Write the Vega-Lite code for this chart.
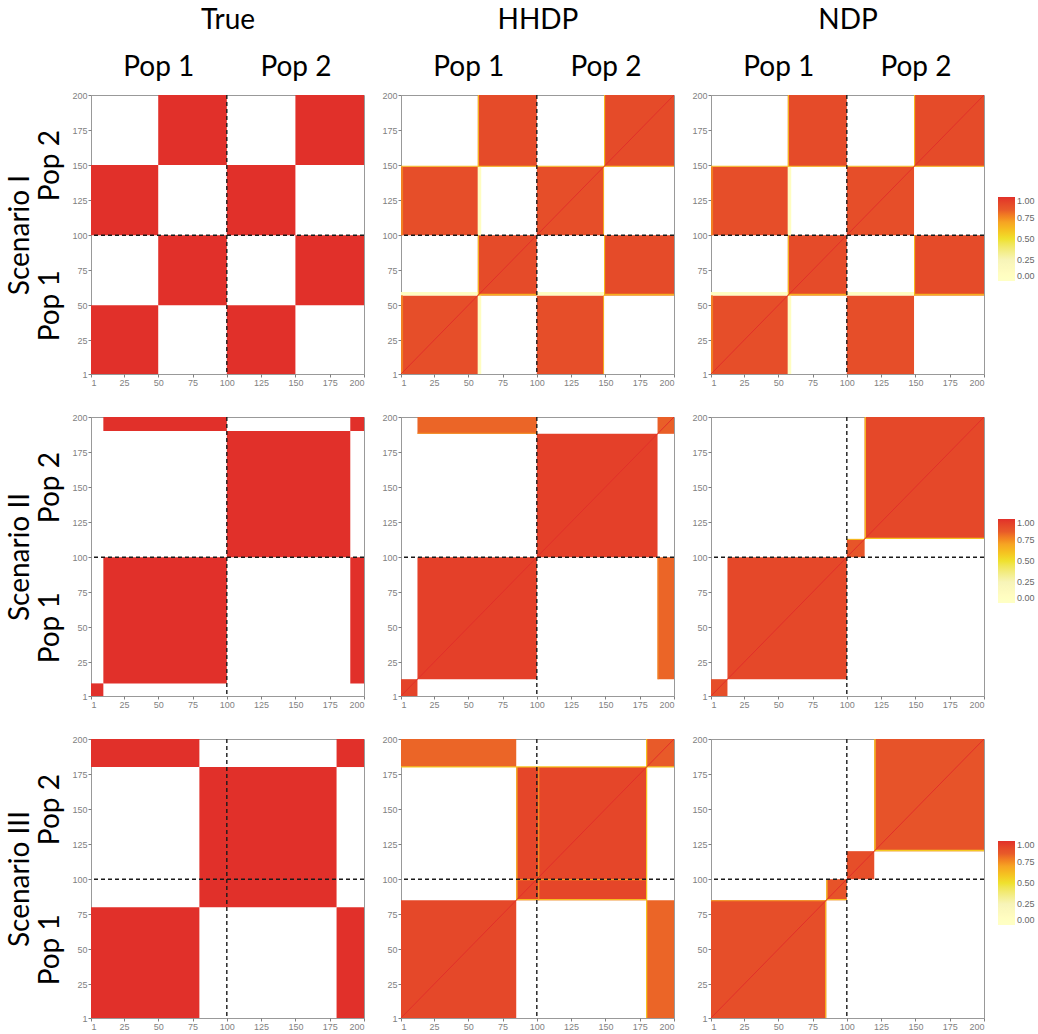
{
  "$schema": "https://vega.github.io/schema/vega-lite/v6.json",
  "background": "white",
  "padding": 5,
  "config": {
    "font": "Lato",
    "view": {"stroke": "#999999", "strokeWidth": 1},
    "axis": {"labelFont": "Liberation Sans", "labelFontSize": 9, "labelColor": "#7f7f7f", "tickColor": "#7f7f7f", "tickSize": 3, "domain": false, "grid": false, "labelPadding": 1},
    "legend": {"labelFont": "Liberation Sans", "labelFontSize": 9, "labelColor": "#666666", "gradientStrokeWidth": 0}
  },
  "datasets": {
    "diag": [{"x1": 1, "y1": 1, "x2": 200, "y2": 200}],
    "div": [{"p": 100}],
    "r1_true": [
      {"x1": 1, "x2": 50, "y1": 1, "y2": 50, "v": 1},
      {"x1": 1, "x2": 50, "y1": 100, "y2": 150, "v": 1},
      {"x1": 100, "x2": 150, "y1": 1, "y2": 50, "v": 1},
      {"x1": 100, "x2": 150, "y1": 100, "y2": 150, "v": 1},
      {"x1": 50, "x2": 100, "y1": 50, "y2": 100, "v": 1},
      {"x1": 50, "x2": 100, "y1": 150, "y2": 200, "v": 1},
      {"x1": 150, "x2": 200, "y1": 50, "y2": 100, "v": 1},
      {"x1": 150, "x2": 200, "y1": 150, "y2": 200, "v": 1}
    ],
    "r1_hhdp": [
      {"x1": 1, "x2": 57, "y1": 1, "y2": 57, "v": 0.9},
      {"x1": 1, "x2": 57, "y1": 100, "y2": 149, "v": 0.9},
      {"x1": 100, "x2": 149, "y1": 1, "y2": 57, "v": 0.9},
      {"x1": 100, "x2": 149, "y1": 100, "y2": 149, "v": 0.9},
      {"x1": 57, "x2": 100, "y1": 57, "y2": 100, "v": 0.91},
      {"x1": 57, "x2": 100, "y1": 149, "y2": 200, "v": 0.91},
      {"x1": 149, "x2": 200, "y1": 57, "y2": 100, "v": 0.91},
      {"x1": 149, "x2": 200, "y1": 149, "y2": 200, "v": 0.91},
      {"x1": 57, "x2": 59.5, "y1": 1, "y2": 57, "v": 0.08},
      {"x1": 57, "x2": 59.5, "y1": 100, "y2": 149, "v": 0.08},
      {"x1": 1, "x2": 57, "y1": 57, "y2": 59.5, "v": 0.08},
      {"x1": 100, "x2": 149, "y1": 57, "y2": 59.5, "v": 0.08},
      {"x1": 1, "x2": 2.5, "y1": 1, "y2": 57, "v": 0.78},
      {"x1": 1, "x2": 2.5, "y1": 100, "y2": 149, "v": 0.78},
      {"x1": 57, "x2": 57.8, "y1": 57, "y2": 100, "v": 0.62},
      {"x1": 57, "x2": 57.8, "y1": 149, "y2": 200, "v": 0.62},
      {"x1": 149, "x2": 149.8, "y1": 57, "y2": 100, "v": 0.62},
      {"x1": 149, "x2": 149.8, "y1": 149, "y2": 200, "v": 0.62},
      {"x1": 148.3, "x2": 149, "y1": 1, "y2": 57, "v": 0.66},
      {"x1": 148.3, "x2": 149, "y1": 100, "y2": 149, "v": 0.66},
      {"x1": 1, "x2": 200, "y1": 148.8, "y2": 149.6, "v": 0.62},
      {"x1": 57, "x2": 100, "y1": 57, "y2": 58.2, "v": 0.66},
      {"x1": 149, "x2": 200, "y1": 57, "y2": 58.2, "v": 0.66}
    ],
    "r1_ndp": [
      {"x1": 1, "x2": 57, "y1": 1, "y2": 57, "v": 0.9},
      {"x1": 1, "x2": 57, "y1": 100, "y2": 149, "v": 0.9},
      {"x1": 100, "x2": 149, "y1": 1, "y2": 57, "v": 0.9},
      {"x1": 100, "x2": 149, "y1": 100, "y2": 149, "v": 0.9},
      {"x1": 57, "x2": 100, "y1": 57, "y2": 100, "v": 0.91},
      {"x1": 57, "x2": 100, "y1": 149, "y2": 200, "v": 0.91},
      {"x1": 149, "x2": 200, "y1": 57, "y2": 100, "v": 0.91},
      {"x1": 149, "x2": 200, "y1": 149, "y2": 200, "v": 0.91},
      {"x1": 57, "x2": 59.5, "y1": 1, "y2": 57, "v": 0.08},
      {"x1": 57, "x2": 59.5, "y1": 100, "y2": 149, "v": 0.08},
      {"x1": 1, "x2": 57, "y1": 57, "y2": 59.5, "v": 0.08},
      {"x1": 100, "x2": 149, "y1": 57, "y2": 59.5, "v": 0.08},
      {"x1": 1, "x2": 2.5, "y1": 1, "y2": 57, "v": 0.78},
      {"x1": 1, "x2": 2.5, "y1": 100, "y2": 149, "v": 0.78},
      {"x1": 57, "x2": 57.8, "y1": 57, "y2": 100, "v": 0.62},
      {"x1": 57, "x2": 57.8, "y1": 149, "y2": 200, "v": 0.62},
      {"x1": 149, "x2": 149.8, "y1": 57, "y2": 100, "v": 0.62},
      {"x1": 149, "x2": 149.8, "y1": 149, "y2": 200, "v": 0.62},
      {"x1": 1, "x2": 200, "y1": 148.8, "y2": 149.6, "v": 0.62},
      {"x1": 57, "x2": 100, "y1": 57, "y2": 58.2, "v": 0.66},
      {"x1": 149, "x2": 200, "y1": 57, "y2": 58.2, "v": 0.66}
    ],
    "r2_true": [
      {"x1": 1, "x2": 10, "y1": 1, "y2": 10, "v": 1},
      {"x1": 10, "x2": 100, "y1": 10, "y2": 100, "v": 1},
      {"x1": 10, "x2": 100, "y1": 190, "y2": 200, "v": 1},
      {"x1": 190, "x2": 200, "y1": 10, "y2": 100, "v": 1},
      {"x1": 190, "x2": 200, "y1": 190, "y2": 200, "v": 1},
      {"x1": 100, "x2": 190, "y1": 100, "y2": 190, "v": 1}
    ],
    "r2_hhdp": [
      {"x1": 1, "x2": 13, "y1": 1, "y2": 13, "v": 0.94},
      {"x1": 13, "x2": 100, "y1": 13, "y2": 100, "v": 0.95},
      {"x1": 100, "x2": 188, "y1": 100, "y2": 188, "v": 0.95},
      {"x1": 13, "x2": 100, "y1": 188, "y2": 200, "v": 0.83},
      {"x1": 188, "x2": 200, "y1": 13, "y2": 100, "v": 0.83},
      {"x1": 188, "x2": 200, "y1": 188, "y2": 200, "v": 0.84},
      {"x1": 13, "x2": 100, "y1": 188, "y2": 188.8, "v": 0.74},
      {"x1": 188, "x2": 188.8, "y1": 13, "y2": 100, "v": 0.76}
    ],
    "r2_ndp": [
      {"x1": 1, "x2": 13, "y1": 1, "y2": 13, "v": 0.9},
      {"x1": 13, "x2": 100, "y1": 13, "y2": 100, "v": 0.92},
      {"x1": 100, "x2": 113, "y1": 100, "y2": 113, "v": 0.87},
      {"x1": 113, "x2": 200, "y1": 113, "y2": 200, "v": 0.92},
      {"x1": 113, "x2": 113.9, "y1": 113, "y2": 200, "v": 0.6},
      {"x1": 113, "x2": 200, "y1": 113, "y2": 113.9, "v": 0.6},
      {"x1": 100, "x2": 113, "y1": 112.3, "y2": 113.1, "v": 0.62}
    ],
    "r3_true": [
      {"x1": 1, "x2": 80, "y1": 1, "y2": 80, "v": 1},
      {"x1": 1, "x2": 80, "y1": 180, "y2": 200, "v": 1},
      {"x1": 180, "x2": 200, "y1": 1, "y2": 80, "v": 1},
      {"x1": 180, "x2": 200, "y1": 180, "y2": 200, "v": 1},
      {"x1": 80, "x2": 180, "y1": 80, "y2": 180, "v": 1}
    ],
    "r3_hhdp": [
      {"x1": 1, "x2": 85, "y1": 1, "y2": 85, "v": 0.92},
      {"x1": 85, "x2": 180, "y1": 85, "y2": 180, "v": 0.93},
      {"x1": 180, "x2": 200, "y1": 180, "y2": 200, "v": 0.85},
      {"x1": 1, "x2": 85, "y1": 180, "y2": 200, "v": 0.83},
      {"x1": 180, "x2": 200, "y1": 1, "y2": 85, "v": 0.83},
      {"x1": 1, "x2": 200, "y1": 179.6, "y2": 180.5, "v": 0.6},
      {"x1": 179.6, "x2": 180.5, "y1": 1, "y2": 200, "v": 0.6},
      {"x1": 85, "x2": 85.9, "y1": 85, "y2": 180, "v": 0.62},
      {"x1": 85, "x2": 180, "y1": 85, "y2": 85.9, "v": 0.62},
      {"x1": 101, "x2": 101.8, "y1": 85, "y2": 180, "v": 0.72},
      {"x1": 85, "x2": 180, "y1": 99.3, "y2": 100.1, "v": 0.72}
    ],
    "r3_ndp": [
      {"x1": 1, "x2": 85, "y1": 1, "y2": 85, "v": 0.9},
      {"x1": 85, "x2": 100, "y1": 85, "y2": 100, "v": 0.88},
      {"x1": 100, "x2": 120, "y1": 100, "y2": 120, "v": 0.9},
      {"x1": 120, "x2": 200, "y1": 120, "y2": 200, "v": 0.88},
      {"x1": 120, "x2": 121, "y1": 120, "y2": 200, "v": 0.58},
      {"x1": 120, "x2": 200, "y1": 120, "y2": 121, "v": 0.58},
      {"x1": 85, "x2": 85.9, "y1": 85, "y2": 100, "v": 0.58},
      {"x1": 85, "x2": 100, "y1": 85, "y2": 85.9, "v": 0.62},
      {"x1": 84.2, "x2": 85, "y1": 1, "y2": 85, "v": 0.62},
      {"x1": 1, "x2": 85, "y1": 84.2, "y2": 85, "v": 0.72}
    ]
  },
  "resolve": {"scale": {"color": "independent"}, "legend": {"color": "independent"}},
  "spacing": 24,
  "vconcat": [
    {
      "spacing": 15,
      "resolve": {"scale": {"color": "independent"}, "legend": {"color": "independent"}},
      "hconcat": [
        {
          "width": 273, "height": 279,
          "resolve": {"axis": {"x": "independent", "y": "independent"}},
          "layer": [
            {"data": {"name": "r1_true"}, "mark": {"type": "rect"},
             "encoding": {
               "x": {"field": "x1", "type": "quantitative", "scale": {"domain": [1, 200], "nice": false, "zero": false}, "axis": {"values": [1, 25, 50, 75, 100, 125, 150, 175, 200], "title": null}},
               "x2": {"field": "x2"},
               "y": {"field": "y1", "type": "quantitative", "scale": {"domain": [1, 200], "nice": false, "zero": false}, "axis": {"values": [1, 25, 50, 75, 100, 125, 150, 175, 200], "title": null}},
               "y2": {"field": "y2"},
               "color": {"field": "v", "type": "quantitative", "scale": {"domain": [0, 0.25, 0.5, 0.7, 0.85, 1], "range": ["#ffffff", "#f7f4b8", "#efe12e", "#f6a423", "#e85a29", "#e1302a"]}, "legend": null}
             }},
            {"data": {"name": "div"}, "mark": {"type": "rule", "color": "#1a1a1a", "strokeDash": [4, 3], "strokeWidth": 1.4},
             "encoding": {"x": {"field": "p", "type": "quantitative", "axis": {"orient": "top", "values": [50, 150], "labelExpr": "datum.value < 100 ? 'Pop 1' : 'Pop 2'", "ticks": false, "tickSize": 0, "labelFont": "Lato", "labelFontSize": 28, "labelColor": "black", "labelPadding": 14, "labelAngle": 0, "title": "True", "titleFont": "Lato", "titleFontSize": 28, "titleFontWeight": "normal", "titleColor": "black", "titlePadding": 19}}}},
            {"data": {"name": "div"}, "mark": {"type": "rule", "color": "#1a1a1a", "strokeDash": [4, 3], "strokeWidth": 1.4},
             "encoding": {"y": {"field": "p", "type": "quantitative", "axis": {"orient": "left", "values": [50, 150], "labelExpr": "datum.value < 100 ? 'Pop 1' : 'Pop 2'", "ticks": false, "tickSize": 0, "labelFont": "Lato", "labelFontSize": 28, "labelColor": "black", "labelAngle": -90, "labelAlign": "center", "labelBaseline": "bottom", "labelPadding": 27, "title": "Scenario I", "titleFont": "Lato", "titleFontSize": 28, "titleFontWeight": "normal", "titleColor": "black", "titlePadding": 2}}}}
          ]
        },
        {
          "width": 273, "height": 279,
          "resolve": {"axis": {"x": "independent", "y": "independent"}},
          "layer": [
            {"data": {"name": "r1_hhdp"}, "mark": {"type": "rect"},
             "encoding": {
               "x": {"field": "x1", "type": "quantitative", "scale": {"domain": [1, 200], "nice": false, "zero": false}, "axis": {"values": [1, 25, 50, 75, 100, 125, 150, 175, 200], "title": null}},
               "x2": {"field": "x2"},
               "y": {"field": "y1", "type": "quantitative", "scale": {"domain": [1, 200], "nice": false, "zero": false}, "axis": {"values": [1, 25, 50, 75, 100, 125, 150, 175, 200], "title": null}},
               "y2": {"field": "y2"},
               "color": {"field": "v", "type": "quantitative", "scale": {"domain": [0, 0.25, 0.5, 0.7, 0.85, 1], "range": ["#ffffff", "#f7f4b8", "#efe12e", "#f6a423", "#e85a29", "#e1302a"]}, "legend": null}
             }},
            {"data": {"name": "diag"}, "mark": {"type": "rule", "strokeWidth": 1, "color": "#e1302a"},
             "encoding": {"x": {"field": "x1", "type": "quantitative", "axis": null}, "x2": {"field": "x2"}, "y": {"field": "y1", "type": "quantitative", "axis": null}, "y2": {"field": "y2"}}},
            {"data": {"name": "div"}, "mark": {"type": "rule", "color": "#1a1a1a", "strokeDash": [4, 3], "strokeWidth": 1.4},
             "encoding": {"x": {"field": "p", "type": "quantitative", "axis": {"orient": "top", "values": [50, 150], "labelExpr": "datum.value < 100 ? 'Pop 1' : 'Pop 2'", "ticks": false, "tickSize": 0, "labelFont": "Lato", "labelFontSize": 28, "labelColor": "black", "labelPadding": 14, "labelAngle": 0, "title": "HHDP", "titleFont": "Lato", "titleFontSize": 28, "titleFontWeight": "normal", "titleColor": "black", "titlePadding": 19}}}},
            {"data": {"name": "div"}, "mark": {"type": "rule", "color": "#1a1a1a", "strokeDash": [4, 3], "strokeWidth": 1.4},
             "encoding": {"y": {"field": "p", "type": "quantitative", "axis": null}}}
          ]
        },
        {
          "width": 273, "height": 279,
          "resolve": {"axis": {"x": "independent", "y": "independent"}},
          "layer": [
            {"data": {"name": "r1_ndp"}, "mark": {"type": "rect"},
             "encoding": {
               "x": {"field": "x1", "type": "quantitative", "scale": {"domain": [1, 200], "nice": false, "zero": false}, "axis": {"values": [1, 25, 50, 75, 100, 125, 150, 175, 200], "title": null}},
               "x2": {"field": "x2"},
               "y": {"field": "y1", "type": "quantitative", "scale": {"domain": [1, 200], "nice": false, "zero": false}, "axis": {"values": [1, 25, 50, 75, 100, 125, 150, 175, 200], "title": null}},
               "y2": {"field": "y2"},
               "color": {"field": "v", "type": "quantitative", "scale": {"domain": [0, 0.25, 0.5, 0.7, 0.85, 1], "range": ["#ffffff", "#f7f4b8", "#efe12e", "#f6a423", "#e85a29", "#e1302a"]}, "legend": {"type": "gradient", "orient": "none", "legendX": 287, "legendY": 102, "title": null, "values": [0, 0.25, 0.5, 0.75, 1], "format": ".2f", "gradientLength": 84, "gradientThickness": 17}}
             }},
            {"data": {"name": "diag"}, "mark": {"type": "rule", "strokeWidth": 1, "color": "#e1302a"},
             "encoding": {"x": {"field": "x1", "type": "quantitative", "axis": null}, "x2": {"field": "x2"}, "y": {"field": "y1", "type": "quantitative", "axis": null}, "y2": {"field": "y2"}}},
            {"data": {"name": "div"}, "mark": {"type": "rule", "color": "#1a1a1a", "strokeDash": [4, 3], "strokeWidth": 1.4},
             "encoding": {"x": {"field": "p", "type": "quantitative", "axis": {"orient": "top", "values": [50, 150], "labelExpr": "datum.value < 100 ? 'Pop 1' : 'Pop 2'", "ticks": false, "tickSize": 0, "labelFont": "Lato", "labelFontSize": 28, "labelColor": "black", "labelPadding": 14, "labelAngle": 0, "title": "NDP", "titleFont": "Lato", "titleFontSize": 28, "titleFontWeight": "normal", "titleColor": "black", "titlePadding": 19}}}},
            {"data": {"name": "div"}, "mark": {"type": "rule", "color": "#1a1a1a", "strokeDash": [4, 3], "strokeWidth": 1.4},
             "encoding": {"y": {"field": "p", "type": "quantitative", "axis": null}}}
          ]
        }
      ]
    },
    {
      "spacing": 15,
      "resolve": {"scale": {"color": "independent"}, "legend": {"color": "independent"}},
      "hconcat": [
        {
          "width": 273, "height": 279,
          "resolve": {"axis": {"x": "independent", "y": "independent"}},
          "layer": [
            {"data": {"name": "r2_true"}, "mark": {"type": "rect"},
             "encoding": {
               "x": {"field": "x1", "type": "quantitative", "scale": {"domain": [1, 200], "nice": false, "zero": false}, "axis": {"values": [1, 25, 50, 75, 100, 125, 150, 175, 200], "title": null}},
               "x2": {"field": "x2"},
               "y": {"field": "y1", "type": "quantitative", "scale": {"domain": [1, 200], "nice": false, "zero": false}, "axis": {"values": [1, 25, 50, 75, 100, 125, 150, 175, 200], "title": null}},
               "y2": {"field": "y2"},
               "color": {"field": "v", "type": "quantitative", "scale": {"domain": [0, 0.25, 0.5, 0.7, 0.85, 1], "range": ["#ffffff", "#f7f4b8", "#efe12e", "#f6a423", "#e85a29", "#e1302a"]}, "legend": null}
             }},
            {"data": {"name": "div"}, "mark": {"type": "rule", "color": "#1a1a1a", "strokeDash": [4, 3], "strokeWidth": 1.4},
             "encoding": {"x": {"field": "p", "type": "quantitative", "axis": null}}},
            {"data": {"name": "div"}, "mark": {"type": "rule", "color": "#1a1a1a", "strokeDash": [4, 3], "strokeWidth": 1.4},
             "encoding": {"y": {"field": "p", "type": "quantitative", "axis": {"orient": "left", "values": [50, 150], "labelExpr": "datum.value < 100 ? 'Pop 1' : 'Pop 2'", "ticks": false, "tickSize": 0, "labelFont": "Lato", "labelFontSize": 28, "labelColor": "black", "labelAngle": -90, "labelAlign": "center", "labelBaseline": "bottom", "labelPadding": 27, "title": "Scenario II", "titleFont": "Lato", "titleFontSize": 28, "titleFontWeight": "normal", "titleColor": "black", "titlePadding": 2}}}}
          ]
        },
        {
          "width": 273, "height": 279,
          "resolve": {"axis": {"x": "independent", "y": "independent"}},
          "layer": [
            {"data": {"name": "r2_hhdp"}, "mark": {"type": "rect"},
             "encoding": {
               "x": {"field": "x1", "type": "quantitative", "scale": {"domain": [1, 200], "nice": false, "zero": false}, "axis": {"values": [1, 25, 50, 75, 100, 125, 150, 175, 200], "title": null}},
               "x2": {"field": "x2"},
               "y": {"field": "y1", "type": "quantitative", "scale": {"domain": [1, 200], "nice": false, "zero": false}, "axis": {"values": [1, 25, 50, 75, 100, 125, 150, 175, 200], "title": null}},
               "y2": {"field": "y2"},
               "color": {"field": "v", "type": "quantitative", "scale": {"domain": [0, 0.25, 0.5, 0.7, 0.85, 1], "range": ["#ffffff", "#f7f4b8", "#efe12e", "#f6a423", "#e85a29", "#e1302a"]}, "legend": null}
             }},
            {"data": {"name": "diag"}, "mark": {"type": "rule", "strokeWidth": 1, "color": "#e1302a"},
             "encoding": {"x": {"field": "x1", "type": "quantitative", "axis": null}, "x2": {"field": "x2"}, "y": {"field": "y1", "type": "quantitative", "axis": null}, "y2": {"field": "y2"}}},
            {"data": {"name": "div"}, "mark": {"type": "rule", "color": "#1a1a1a", "strokeDash": [4, 3], "strokeWidth": 1.4},
             "encoding": {"x": {"field": "p", "type": "quantitative", "axis": null}}},
            {"data": {"name": "div"}, "mark": {"type": "rule", "color": "#1a1a1a", "strokeDash": [4, 3], "strokeWidth": 1.4},
             "encoding": {"y": {"field": "p", "type": "quantitative", "axis": null}}}
          ]
        },
        {
          "width": 273, "height": 279,
          "resolve": {"axis": {"x": "independent", "y": "independent"}},
          "layer": [
            {"data": {"name": "r2_ndp"}, "mark": {"type": "rect"},
             "encoding": {
               "x": {"field": "x1", "type": "quantitative", "scale": {"domain": [1, 200], "nice": false, "zero": false}, "axis": {"values": [1, 25, 50, 75, 100, 125, 150, 175, 200], "title": null}},
               "x2": {"field": "x2"},
               "y": {"field": "y1", "type": "quantitative", "scale": {"domain": [1, 200], "nice": false, "zero": false}, "axis": {"values": [1, 25, 50, 75, 100, 125, 150, 175, 200], "title": null}},
               "y2": {"field": "y2"},
               "color": {"field": "v", "type": "quantitative", "scale": {"domain": [0, 0.25, 0.5, 0.7, 0.85, 1], "range": ["#ffffff", "#f7f4b8", "#efe12e", "#f6a423", "#e85a29", "#e1302a"]}, "legend": {"type": "gradient", "orient": "none", "legendX": 287, "legendY": 102, "title": null, "values": [0, 0.25, 0.5, 0.75, 1], "format": ".2f", "gradientLength": 84, "gradientThickness": 17}}
             }},
            {"data": {"name": "diag"}, "mark": {"type": "rule", "strokeWidth": 1, "color": "#e1302a"},
             "encoding": {"x": {"field": "x1", "type": "quantitative", "axis": null}, "x2": {"field": "x2"}, "y": {"field": "y1", "type": "quantitative", "axis": null}, "y2": {"field": "y2"}}},
            {"data": {"name": "div"}, "mark": {"type": "rule", "color": "#1a1a1a", "strokeDash": [4, 3], "strokeWidth": 1.4},
             "encoding": {"x": {"field": "p", "type": "quantitative", "axis": null}}},
            {"data": {"name": "div"}, "mark": {"type": "rule", "color": "#1a1a1a", "strokeDash": [4, 3], "strokeWidth": 1.4},
             "encoding": {"y": {"field": "p", "type": "quantitative", "axis": null}}}
          ]
        }
      ]
    },
    {
      "spacing": 15,
      "resolve": {"scale": {"color": "independent"}, "legend": {"color": "independent"}},
      "hconcat": [
        {
          "width": 273, "height": 279,
          "resolve": {"axis": {"x": "independent", "y": "independent"}},
          "layer": [
            {"data": {"name": "r3_true"}, "mark": {"type": "rect"},
             "encoding": {
               "x": {"field": "x1", "type": "quantitative", "scale": {"domain": [1, 200], "nice": false, "zero": false}, "axis": {"values": [1, 25, 50, 75, 100, 125, 150, 175, 200], "title": null}},
               "x2": {"field": "x2"},
               "y": {"field": "y1", "type": "quantitative", "scale": {"domain": [1, 200], "nice": false, "zero": false}, "axis": {"values": [1, 25, 50, 75, 100, 125, 150, 175, 200], "title": null}},
               "y2": {"field": "y2"},
               "color": {"field": "v", "type": "quantitative", "scale": {"domain": [0, 0.25, 0.5, 0.7, 0.85, 1], "range": ["#ffffff", "#f7f4b8", "#efe12e", "#f6a423", "#e85a29", "#e1302a"]}, "legend": null}
             }},
            {"data": {"name": "div"}, "mark": {"type": "rule", "color": "#1a1a1a", "strokeDash": [4, 3], "strokeWidth": 1.4},
             "encoding": {"x": {"field": "p", "type": "quantitative", "axis": null}}},
            {"data": {"name": "div"}, "mark": {"type": "rule", "color": "#1a1a1a", "strokeDash": [4, 3], "strokeWidth": 1.4},
             "encoding": {"y": {"field": "p", "type": "quantitative", "axis": {"orient": "left", "values": [50, 150], "labelExpr": "datum.value < 100 ? 'Pop 1' : 'Pop 2'", "ticks": false, "tickSize": 0, "labelFont": "Lato", "labelFontSize": 28, "labelColor": "black", "labelAngle": -90, "labelAlign": "center", "labelBaseline": "bottom", "labelPadding": 27, "title": "Scenario III", "titleFont": "Lato", "titleFontSize": 28, "titleFontWeight": "normal", "titleColor": "black", "titlePadding": 2}}}}
          ]
        },
        {
          "width": 273, "height": 279,
          "resolve": {"axis": {"x": "independent", "y": "independent"}},
          "layer": [
            {"data": {"name": "r3_hhdp"}, "mark": {"type": "rect"},
             "encoding": {
               "x": {"field": "x1", "type": "quantitative", "scale": {"domain": [1, 200], "nice": false, "zero": false}, "axis": {"values": [1, 25, 50, 75, 100, 125, 150, 175, 200], "title": null}},
               "x2": {"field": "x2"},
               "y": {"field": "y1", "type": "quantitative", "scale": {"domain": [1, 200], "nice": false, "zero": false}, "axis": {"values": [1, 25, 50, 75, 100, 125, 150, 175, 200], "title": null}},
               "y2": {"field": "y2"},
               "color": {"field": "v", "type": "quantitative", "scale": {"domain": [0, 0.25, 0.5, 0.7, 0.85, 1], "range": ["#ffffff", "#f7f4b8", "#efe12e", "#f6a423", "#e85a29", "#e1302a"]}, "legend": null}
             }},
            {"data": {"name": "diag"}, "mark": {"type": "rule", "strokeWidth": 1, "color": "#e1302a"},
             "encoding": {"x": {"field": "x1", "type": "quantitative", "axis": null}, "x2": {"field": "x2"}, "y": {"field": "y1", "type": "quantitative", "axis": null}, "y2": {"field": "y2"}}},
            {"data": {"name": "div"}, "mark": {"type": "rule", "color": "#1a1a1a", "strokeDash": [4, 3], "strokeWidth": 1.4},
             "encoding": {"x": {"field": "p", "type": "quantitative", "axis": null}}},
            {"data": {"name": "div"}, "mark": {"type": "rule", "color": "#1a1a1a", "strokeDash": [4, 3], "strokeWidth": 1.4},
             "encoding": {"y": {"field": "p", "type": "quantitative", "axis": null}}}
          ]
        },
        {
          "width": 273, "height": 279,
          "resolve": {"axis": {"x": "independent", "y": "independent"}},
          "layer": [
            {"data": {"name": "r3_ndp"}, "mark": {"type": "rect"},
             "encoding": {
               "x": {"field": "x1", "type": "quantitative", "scale": {"domain": [1, 200], "nice": false, "zero": false}, "axis": {"values": [1, 25, 50, 75, 100, 125, 150, 175, 200], "title": null}},
               "x2": {"field": "x2"},
               "y": {"field": "y1", "type": "quantitative", "scale": {"domain": [1, 200], "nice": false, "zero": false}, "axis": {"values": [1, 25, 50, 75, 100, 125, 150, 175, 200], "title": null}},
               "y2": {"field": "y2"},
               "color": {"field": "v", "type": "quantitative", "scale": {"domain": [0, 0.25, 0.5, 0.7, 0.85, 1], "range": ["#ffffff", "#f7f4b8", "#efe12e", "#f6a423", "#e85a29", "#e1302a"]}, "legend": {"type": "gradient", "orient": "none", "legendX": 287, "legendY": 102, "title": null, "values": [0, 0.25, 0.5, 0.75, 1], "format": ".2f", "gradientLength": 84, "gradientThickness": 17}}
             }},
            {"data": {"name": "diag"}, "mark": {"type": "rule", "strokeWidth": 1, "color": "#e1302a"},
             "encoding": {"x": {"field": "x1", "type": "quantitative", "axis": null}, "x2": {"field": "x2"}, "y": {"field": "y1", "type": "quantitative", "axis": null}, "y2": {"field": "y2"}}},
            {"data": {"name": "div"}, "mark": {"type": "rule", "color": "#1a1a1a", "strokeDash": [4, 3], "strokeWidth": 1.4},
             "encoding": {"x": {"field": "p", "type": "quantitative", "axis": null}}},
            {"data": {"name": "div"}, "mark": {"type": "rule", "color": "#1a1a1a", "strokeDash": [4, 3], "strokeWidth": 1.4},
             "encoding": {"y": {"field": "p", "type": "quantitative", "axis": null}}}
          ]
        }
      ]
    }
  ]
}
